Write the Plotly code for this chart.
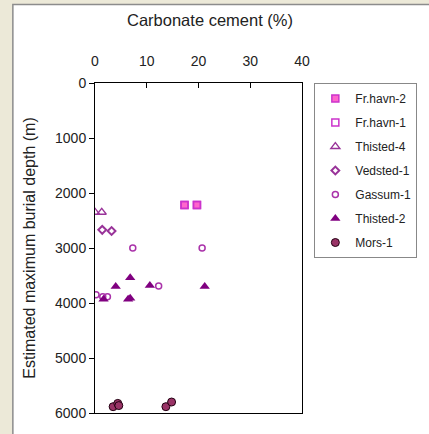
import plotly.graph_objects as go

# Data (Carbonate cement %, depth m)
frhavn2_x = [17.3, 19.7]
frhavn2_y = [2220, 2220]
frhavn1_x = [17.3, 19.7]
frhavn1_y = [2220, 2220]
thisted4_x = [0.0, 1.3]
thisted4_y = [2350, 2350]
vedsted1_x = [1.4, 3.2]
vedsted1_y = [2670, 2690]
gassum1_x = [7.3, 20.7, 12.3, 0.2, 1.5, 2.4]
gassum1_y = [3000, 3000, 3690, 3850, 3885, 3885]
thisted2_x = [4.0, 6.8, 10.6, 21.2, 1.65, 6.4, 6.8]
thisted2_y = [3700, 3540, 3680, 3700, 3930, 3930, 3915]
mors1_x = [3.5, 4.4, 4.6, 13.7, 14.8]
mors1_y = [5885, 5825, 5865, 5885, 5800]

x_ticks = [0, 10, 20, 30, 40]
y_ticks = [0, 1000, 2000, 3000, 4000, 5000, 6000]

FONT = "Liberation Sans, Arial, sans-serif"

fig = go.Figure()
series = [
    ("Fr.havn-2", frhavn2_x, frhavn2_y, dict(symbol="square", size=7, color="#FF66CC", line=dict(color="#CC33CC", width=1.5))),
    ("Fr.havn-1", frhavn1_x, frhavn1_y, dict(symbol="square-open", size=7, color="#CC33CC", line=dict(width=1.5))),
    ("Thisted-4", thisted4_x, thisted4_y, dict(symbol="triangle-up-open", size=8, color="#993399", line=dict(width=1.3))),
    ("Vedsted-1", vedsted1_x, vedsted1_y, dict(symbol="diamond-open", size=6, color="#993399", line=dict(width=2))),
    ("Gassum-1", gassum1_x, gassum1_y, dict(symbol="circle-open", size=6, color="#AA33AA", line=dict(width=1.5))),
    ("Thisted-2", thisted2_x, thisted2_y, dict(symbol="triangle-up", size=9, color="#800080", line=dict(width=0))),
    ("Mors-1", mors1_x, mors1_y, dict(symbol="circle", size=8, color="#993366", line=dict(color="#220011", width=1))),
]
for i, (name, xs, ys, mk) in enumerate(series):
    fig.add_trace(go.Scatter(x=xs, y=ys, mode="markers", name=name, marker=mk,
                             legendgroup=name, showlegend=True))

fig.update_layout(
    width=429, height=434,
    margin=dict(l=95, r=116, t=83, b=21),
    paper_bgcolor="#ECE9D8",
    plot_bgcolor="white",
    font=dict(family=FONT, size=14, color="#222"),
    title=dict(text="Carbonate cement (%)", font=dict(size=16.5, color="#222"),
               x=210 / 429, xanchor="center", xref="container",
               y=1 - 20 / 434, yanchor="middle", yref="container"),
    showlegend=True,
    legend=dict(x=(326 - 95) / 218, y=1.0, xanchor="left", yanchor="top",
                bordercolor="#888", borderwidth=1, bgcolor="white",
                font=dict(size=12, color="#222"), tracegroupgap=5,
                itemwidth=30, traceorder="grouped"),
    shapes=[dict(type="rect", xref="paper", yref="paper",
                 x0=(8.5 - 95) / 218, x1=(470 - 95) / 218,
                 y0=(413 - 470) / 330, y1=(413 - 4.5) / 330,
                 fillcolor="white", line=dict(color="#8C8C8C", width=1.5),
                 layer="below")],
)
fig.update_xaxes(range=[0, 40], side="top", tickvals=x_ticks, ticks="inside", ticklen=5,
                 tickcolor="black", showline=True, linecolor="black", linewidth=1,
                 mirror=True, showgrid=False, zeroline=False,
                 ticklabelstandoff=10)
fig.update_yaxes(range=[6000, 0], tickvals=y_ticks, ticks="outside", ticklen=5,
                 tickcolor="black", showline=True, linecolor="black", linewidth=1,
                 mirror=True, showgrid=False, zeroline=False,
                 title=dict(text="Estimated maximum burial depth (m)", font=dict(size=16), standoff=15))

fig.write_html("out.html")
